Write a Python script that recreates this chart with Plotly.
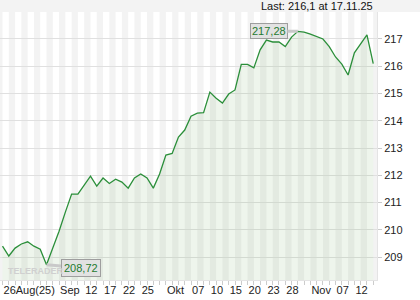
import plotly.graph_objects as go

# ---- data -------------------------------------------------------------
dates = [
    "2025-08-26", "2025-08-27", "2025-08-28", "2025-08-29",
    "2025-09-01", "2025-09-02", "2025-09-03", "2025-09-04", "2025-09-05",
    "2025-09-08", "2025-09-09", "2025-09-10", "2025-09-11", "2025-09-12",
    "2025-09-15", "2025-09-16", "2025-09-17", "2025-09-18", "2025-09-19",
    "2025-09-22", "2025-09-23", "2025-09-24", "2025-09-25", "2025-09-26",
    "2025-09-29", "2025-09-30", "2025-10-01", "2025-10-02", "2025-10-03",
    "2025-10-06", "2025-10-07", "2025-10-08", "2025-10-09", "2025-10-10",
    "2025-10-13", "2025-10-14", "2025-10-15", "2025-10-16", "2025-10-17",
    "2025-10-20", "2025-10-21", "2025-10-22", "2025-10-23", "2025-10-24",
    "2025-10-27", "2025-10-28", "2025-10-29", "2025-10-30", "2025-10-31",
    "2025-11-03", "2025-11-04", "2025-11-05", "2025-11-06", "2025-11-07",
    "2025-11-10", "2025-11-11", "2025-11-12", "2025-11-13", "2025-11-14",
    "2025-11-17",
]
values = [
    209.40, 209.04, 209.33, 209.48,
    209.56, 209.40, 209.29, 208.72, 209.33,
    209.95, 210.65, 211.31, 211.31, 211.64,
    211.97, 211.60, 211.90, 211.70, 211.86,
    211.75, 211.53, 211.90, 212.05, 211.90,
    211.53, 212.05, 212.74, 212.80, 213.40,
    213.66, 214.17, 214.28, 214.30, 215.05,
    214.83, 214.65, 214.98, 215.13, 216.07,
    216.07, 215.94, 216.60, 216.96, 216.89,
    216.89, 216.72, 217.07, 217.28, 217.25,
    217.18, 217.10, 217.00, 216.72, 216.34,
    216.08, 215.68, 216.49, 216.82, 217.15,
    216.10,
]
tick_dates = ["2025-08-26", "2025-09-08", "2025-09-12", "2025-09-17", "2025-09-22",
              "2025-09-25", "2025-10-01", "2025-10-07", "2025-10-10", "2025-10-15",
              "2025-10-20", "2025-10-23", "2025-10-28", "2025-11-03", "2025-11-07",
              "2025-11-12"]
tick_text = ["26Aug(25)", "Sep", "12", "17", "22", "25", "Okt", "07", "10", "15",
             "20", "23", "28", "Nov", "07", "12"]
y_ticks = [209, 210, 211, 212, 213, 214, 215, 216, 217]
last_text = "Last: 216,1 at 17.11.25"

# ---- figure -----------------------------------------------------------
idx = list(range(len(dates)))
tickvals = [dates.index(d) for d in tick_dates]

fig = go.Figure()
fig.add_trace(go.Scatter(
    x=idx, y=values, mode="lines",
    line=dict(color="#2b8f3a", width=1.3),
    fill="tozeroy", fillcolor="rgba(120,175,110,0.13)",
    hoverinfo="skip", showlegend=False,
))

W, H = 420, 300
ml, mr, mt, mb = 0, 43, 12, 20
pw, ph = W - ml - mr, H - mt - mb

shapes = []
# alternating day stripes
for i in range(-1, len(dates)):
    if i % 2 == 0:
        shapes.append(dict(type="rect", xref="x", yref="paper", x0=i, x1=i + 1,
                           y0=0, y1=1, fillcolor="#ffffff", line=dict(width=0),
                           layer="below"))
# top grey band
shapes.append(dict(type="rect", xref="paper", yref="paper", x0=0, x1=W / pw,
                   y0=1, y1=1 + mt / ph, fillcolor="#f3f3f3", line=dict(width=0),
                   layer="below"))

imax = values.index(max(values))
imin = values.index(min(values))
fmt = lambda v: f"{v:.2f}".replace(".", ",")

annotations = [
    dict(x=imax, y=values[imax], xref="x", yref="y", text=fmt(values[imax]),
         showarrow=True, ax=-29, ay=0, arrowhead=0, arrowwidth=3,
         arrowcolor="#c9c9c9", standoff=0,
         bgcolor="#e2e2e2", bordercolor="#9e9e9e", borderwidth=1, borderpad=1,
         font=dict(color="#1f7a30", size=11, family="Liberation Sans, Arial")),
    dict(x=imin, y=values[imin], xref="x", yref="y", text=fmt(values[imin]),
         showarrow=True, ax=34, ay=3, arrowhead=0, arrowwidth=3,
         arrowcolor="#c9c9c9", standoff=0,
         bgcolor="#e2e2e2", bordercolor="#9e9e9e", borderwidth=1, borderpad=2,
         font=dict(color="#1f7a30", size=11, family="Liberation Sans, Arial")),
    dict(x=375 / pw, y=1 + 6 / ph, xref="paper", yref="paper", text=last_text,
         showarrow=False, xanchor="right", yanchor="middle",
         font=dict(color="#111111", size=11, family="Liberation Sans, Arial")),
    dict(x=6 / pw, y=9 / ph, xref="paper", yref="paper", text="<b>TELERADER</b>",
         showarrow=False, xanchor="left", yanchor="middle",
         font=dict(color="#d0d0d0", size=9, family="Liberation Sans, Arial")),
]

fig.update_layout(
    width=W, height=H,
    margin=dict(l=ml, r=mr, t=mt, b=mb, pad=0),
    paper_bgcolor="#ffffff", plot_bgcolor="#f3f3f3",
    shapes=shapes, annotations=annotations,
    font=dict(family="Liberation Sans, Arial", size=11, color="#222222"),
    showlegend=False,
)
fig.update_xaxes(
    range=[-0.4, len(dates) - 0.4],
    tickmode="array", tickvals=tickvals, ticktext=tick_text,
    tickangle=0, automargin=False,
    ticks="outside", ticklen=4, tickcolor="#cccccc", tickwidth=1,
    ticklabelposition="outside right",
    minor=dict(tick0=0, dtick=1, ticks="outside", ticklen=4,
               tickcolor="#cccccc", tickwidth=1, showgrid=False),
    showgrid=False, zeroline=False,
    showline=True, linecolor="#e4e4e4", linewidth=1,
    tickfont=dict(size=11, color="#222222"),
)
fig.update_yaxes(
    side="right", range=[208.16, 217.99], automargin=False,
    tickmode="array", tickvals=y_ticks, ticktext=[str(v) for v in y_ticks],
    ticks="outside", ticklen=4, tickcolor="#cccccc",
    showgrid=True, gridcolor="#e0e0e0", gridwidth=1, zeroline=False,
    showline=True, linecolor="#e4e4e4", linewidth=1, mirror=False,
    tickfont=dict(size=11, color="#222222"),
)

fig.write_html("out.html")
